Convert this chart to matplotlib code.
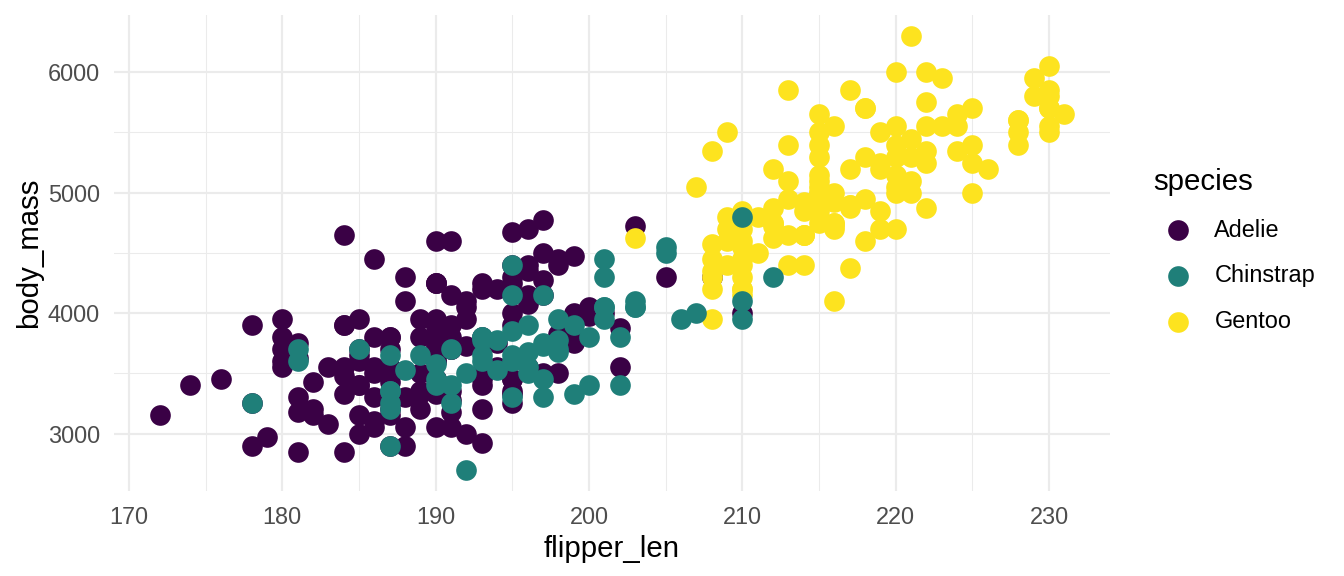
import matplotlib
matplotlib.use("Agg")
import matplotlib.pyplot as plt
from matplotlib.ticker import MultipleLocator

plt.rcParams['font.family'] = ['Liberation Sans', 'DejaVu Sans']

species = ["Adelie", "Chinstrap", "Gentoo"]
colors = {"Adelie": "#3A0145", "Chinstrap": "#1F7F79", "Gentoo": "#FDE31F"}

adelie_flipper = [181,186,195,193,190,181,195,193,190,186,180,182,191,198,185,195,197,184,194,174,
                  180,189,185,180,187,183,187,172,180,178,178,188,184,195,196,190,180,181,184,182,
                  195,186,196,185,190,182,179,190,191,186,188,190,200,187,191,186,193,181,194,185,
                  195,185,192,184,192,195,188,190,198,190,190,196,197,190,195,191,184,187,195,189,
                  196,187,193,191,194,190,189,189,190,202,205,185,186,187,208,190,196,178,192,192,
                  203,183,190,193,184,199,190,181,197,198,191,193,197,191,196,188,199,189,189,187,
                  198,176,202,186,199,191,195,191,210,190,197,193,199,187,190,191,200,185,193,193,
                  187,188,190,192,185,190,184,195,193,187,201]
adelie_mass = [3750,3800,3250,3450,3650,3625,4675,3475,4250,3300,3700,3200,3800,4400,3700,3450,4500,3325,4200,3400,
               3600,3800,3950,3800,3800,3550,3200,3150,3950,3250,3900,3300,3900,3325,4150,3950,3550,3300,4650,3150,
               3900,3100,4400,3000,4600,3425,2975,3450,4150,3500,4300,3450,4050,2900,3700,3550,3800,2850,3750,3150,
               4400,3600,4050,2850,3950,3350,4100,3050,4450,3600,3900,3550,4150,3700,4250,3700,3900,3550,4000,3200,
               4700,3800,4200,3350,3550,3800,3500,3950,3600,3550,4300,3400,4450,3300,4300,3700,4350,2900,4100,3725,
               4725,3075,4250,2925,3550,3750,3900,3175,4775,3825,4600,3200,4275,3900,4075,2900,3775,3350,3325,3150,
               3500,3450,3875,3050,4000,3275,4300,3050,4000,3325,3500,3500,4475,3425,3900,3175,3975,3400,4250,3400,
               3475,3050,3725,3000,3650,4250,3475,3450,3750,3700,4000]

gentoo_flipper = [211,230,210,218,215,210,211,219,209,215,214,216,214,213,210,217,210,221,209,222,
                  218,215,213,215,215,215,216,215,210,220,222,209,207,230,220,220,213,219,208,208,
                  208,225,210,216,222,217,210,225,213,215,210,220,210,225,217,220,208,220,208,224,
                  208,221,214,231,219,230,214,229,220,223,216,221,221,217,216,230,209,220,215,223,
                  212,221,212,224,212,228,218,218,212,230,218,228,212,224,214,226,216,222,203,225,
                  219,228,215,228,216,215,210,219,208,209,216,229,213,230,217,230,217,222,214,215,
                  222,212,213]
gentoo_mass = [4500,5700,4450,5700,5400,4550,4800,5200,4400,5150,4650,5550,4650,5850,4200,5850,4150,6300,4800,5350,
               5700,5000,4400,5050,5000,5100,4100,5650,4600,5550,5250,4700,5050,6050,5150,5400,4950,5250,4350,5350,
               3950,5700,4300,4750,5550,4900,4200,5400,5100,5300,4850,5300,4400,5000,4900,5050,4300,5000,4450,5550,
               4200,5300,4400,5650,4700,5700,4650,5800,4700,5550,4750,5000,5100,5200,4700,5800,4600,6000,4750,5950,
               4625,5450,4725,5350,4750,5600,4600,5300,4875,5550,4950,5400,4750,5650,4850,5200,4925,4875,4625,5250,
               4850,5600,4975,5500,4725,5500,4700,5500,4575,5500,5000,5950,4650,5500,4375,5850,4875,6000,4925,4850,
               5750,5200,5400]

chinstrap_flipper = [192,196,193,188,197,198,178,197,195,198,193,194,185,201,190,201,197,181,190,195,
                     181,191,187,193,195,197,200,200,191,205,187,201,187,203,195,199,195,210,192,205,
                     210,187,196,196,196,201,190,212,187,198,199,201,193,203,187,197,191,203,202,194,
                     206,189,195,207,202,193,210,198]
chinstrap_mass = [3500,3900,3650,3525,3725,3950,3250,3750,4150,3700,3800,3775,3700,4050,3575,4050,3300,3700,3450,4400,
                  3600,3400,2900,3800,3300,4150,3400,3800,3700,4550,3200,4300,3350,4100,3600,3900,3850,4800,2700,4500,
                  3950,3650,3550,3500,3675,4450,3400,4300,3250,3675,3325,3950,3600,4050,3350,3450,3250,4050,3800,3525,
                  3950,3650,3650,4000,3400,3775,4100,3775]

data = {
    "Adelie": (adelie_flipper, adelie_mass),
    "Gentoo": (gentoo_flipper, gentoo_mass),
    "Chinstrap": (chinstrap_flipper, chinstrap_mass),
}
draw_order = ["Adelie", "Gentoo", "Chinstrap"]

fig = plt.figure(figsize=(7, 3), dpi=192)
W, H = 1344, 576
left_px, right_px, top_px, bottom_px = 114.4, 1109.6, 14.5, 491.3
ax = fig.add_axes([left_px / W, (H - bottom_px) / H, (right_px - left_px) / W, (bottom_px - top_px) / H])

handles = {}
for sp in draw_order:
    fx, my = data[sp]
    handles[sp] = ax.scatter(fx, my, s=60, color=colors[sp], linewidths=0, zorder=3, label=sp)

ax.set_xlim(169.05, 233.95)
ax.set_ylim(2520, 6480)
ax.xaxis.set_major_locator(MultipleLocator(10))
ax.xaxis.set_minor_locator(MultipleLocator(5))
ax.yaxis.set_major_locator(MultipleLocator(1000))
ax.yaxis.set_minor_locator(MultipleLocator(500))
ax.grid(which='major', color='#EBEBEB', linewidth=0.8, zorder=0)
ax.grid(which='minor', color='#EBEBEB', linewidth=0.4, zorder=0)
ax.set_axisbelow(True)
for s in ax.spines.values():
    s.set_visible(False)
ax.tick_params(which='both', length=0, labelsize=8.8, labelcolor='#4D4D4D', pad=5.5)
ax.set_xlabel("flipper_len", fontsize=11, color='black', labelpad=2.3)
ax.set_ylabel("body_mass", fontsize=11, color='black', labelpad=1.8)

leg = fig.legend([handles[s] for s in species], species, title="species",
                 loc='center left', bbox_to_anchor=(1144 / W, 1 - 250.5 / H),
                 frameon=False, fontsize=8.8, title_fontsize=11,
                 handletextpad=0.5, labelspacing=0.97, markerscale=1.0,
                 borderaxespad=0, handlelength=2.1)
leg._legend_box.align = "left"

fig.savefig("out.png", dpi=192)
